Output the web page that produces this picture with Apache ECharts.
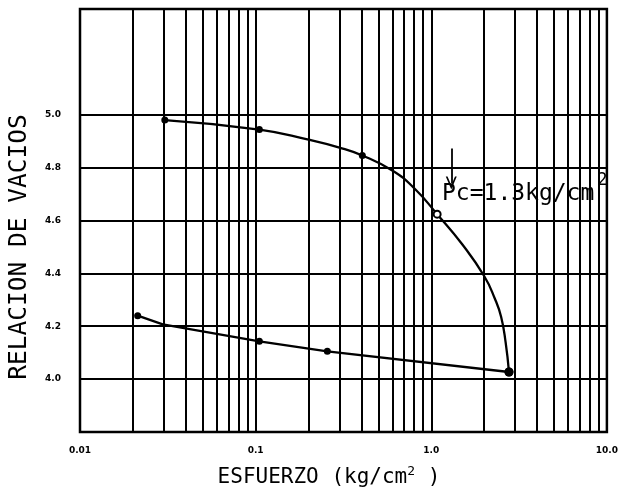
<!DOCTYPE html>
<html>
<head>
<meta charset="utf-8">
<script src="https://cdn.jsdelivr.net/npm/echarts@6/dist/echarts.min.js"></script>
<style>
  html, body { margin: 0; padding: 0; background: #fff; }
  #chart { width: 621px; height: 494px; }
</style>
</head>
<body>
<div id="chart"></div>
<script>
// Consolidation curve: void ratio vs. effective stress (log scale)
const loadStress = [0.0304, 0.105, 0.2, 0.3, 0.405, 0.6, 0.8, 1.08, 1.5, 2.0, 2.3, 2.5, 2.65, 2.77];
const loadVoid   = [4.98, 4.944, 4.906, 4.876, 4.846, 4.789, 4.722, 4.624, 4.51, 4.39, 4.305, 4.235, 4.14, 4.027];
const loadMarker = ['dot', 'dot', 'none', 'none', 'dot', 'none', 'none', 'ring', 'none', 'none', 'none', 'none', 'none', 'end'];

const unloadStress = [2.77, 0.256, 0.105, 0.0296, 0.0213];
const unloadVoid   = [4.027, 4.105, 4.143, 4.207, 4.24];
const unloadMarker = ['end', 'dot', 'dot', 'none', 'dot'];

const gridStress = [0.02, 0.03, 0.04, 0.05, 0.06, 0.07, 0.08, 0.09,
                    0.2, 0.3, 0.4, 0.5, 0.6, 0.7, 0.8, 0.9,
                    2, 3, 4, 5, 6, 7, 8, 9];
const gridVoid = [4.0, 4.2, 4.4, 4.6, 4.8, 5.0];
const xTickText = { 0.01: '0.01', 0.1: '0.1', 1: '1.0', 10: '10.0' };

const preconsolidation = 1.3;
const arrowVoid = [4.872, 4.742];

const INK = '#000';

function markerStyle(kind) {
  if (kind === 'dot')  return { symbol: 'circle', symbolSize: 7, itemStyle: { color: INK } };
  if (kind === 'end')  return { symbol: 'circle', symbolSize: 9, itemStyle: { color: INK } };
  if (kind === 'ring') return { symbol: 'emptyCircle', symbolSize: 7, itemStyle: { color: INK, borderWidth: 1.5 } };
  return { symbol: 'none', symbolSize: 0 };
}

function buildPoints(xs, ys, kinds) {
  return xs.map((x, i) => Object.assign({ value: [x, ys[i]] }, markerStyle(kinds[i])));
}

const chart = echarts.init(document.getElementById('chart'), null, { renderer: 'canvas' });

const monoFont = 'DejaVu Sans Mono';

chart.setOption({
  animation: false,
  backgroundColor: '#fff',
  grid: {
    left: 80, right: 13, top: 9, bottom: 62,
    show: true, borderColor: INK, borderWidth: 2.5, backgroundColor: '#fff'
  },
  xAxis: {
    type: 'log', logBase: 10, min: 0.01, max: 10,
    axisLine: { show: false },
    axisTick: { show: false },
    splitLine: { show: true, lineStyle: { color: INK, width: 2 } },
    axisLabel: {
      margin: 14, color: INK, fontFamily: 'DejaVu Sans', fontWeight: 'bold', fontSize: 9,
      formatter: v => xTickText[+v.toPrecision(3)] || ''
    }
  },
  yAxis: {
    type: 'value', min: 3.8, max: 5.4, interval: 0.2,
    axisLine: { show: false },
    axisTick: { show: false },
    splitLine: { show: false },
    axisLabel: {
      margin: 19, color: INK, fontFamily: 'DejaVu Sans', fontWeight: 'bold', fontSize: 9,
      formatter: v => (v > 3.99 && v < 5.01) ? v.toFixed(1) : ''
    }
  },
  series: [
    {
      // grid lines drawn as mark lines so they follow the log scale
      type: 'line', data: [], silent: true,
      markLine: {
        silent: true, symbol: 'none', label: { show: false },
        lineStyle: { color: INK, width: 2, type: 'solid' },
        data: gridStress.map(v => ({ xAxis: v })).concat(gridVoid.map(v => ({ yAxis: v })))
      }
    },
    {
      name: 'carga', type: 'line', smooth: 0.5,
      data: buildPoints(loadStress, loadVoid, loadMarker),
      lineStyle: { color: INK, width: 2.3 },
      itemStyle: { color: INK },
      z: 5,
      markLine: {
        silent: true,
        symbol: ['none', 'path://M0,10 L5,0 L10,10 L8.4,10 L5,3.2 L1.6,10 Z'],
        symbolSize: [11, 13],
        label: { show: false },
        lineStyle: { color: INK, width: 1.8, type: 'solid' },
        data: [[
          { coord: [preconsolidation, arrowVoid[0]] },
          { coord: [preconsolidation, arrowVoid[1]] }
        ]]
      }
    },
    {
      name: 'descarga', type: 'line', smooth: false,
      data: buildPoints(unloadStress, unloadVoid, unloadMarker),
      lineStyle: { color: INK, width: 2.3 },
      itemStyle: { color: INK },
      z: 5
    }
  ],
  graphic: [
    {
      type: 'text', left: 442, top: 172, z: 10,
      style: {
        text: 'Pc=1.3kg/cm{sup|2}',
        font: '23px "' + monoFont + '"', fill: INK,
        rich: { sup: { fontSize: 17, fontFamily: monoFont, fill: INK, padding: [0, 0, 28, 3] } }
      }
    },
    {
      type: 'text', x: 20, y: 247, rotation: Math.PI / 2, z: 10,
      style: {
        text: 'RELACION DE VACIOS',
        font: '24.5px "' + monoFont + '"', fill: INK,
        align: 'center', verticalAlign: 'middle'
      }
    },
    {
      type: 'text', x: 329, y: 478, z: 10,
      style: {
        text: 'ESFUERZO (kg/cm{sup|2} )',
        font: '21px "' + monoFont + '"', fill: INK,
        align: 'center', verticalAlign: 'middle',
        rich: { sup: { fontSize: 13, fontFamily: monoFont, fill: INK, padding: [0, 0, 12, 0] } }
      }
    }
  ]
});
</script>
</body>
</html>
